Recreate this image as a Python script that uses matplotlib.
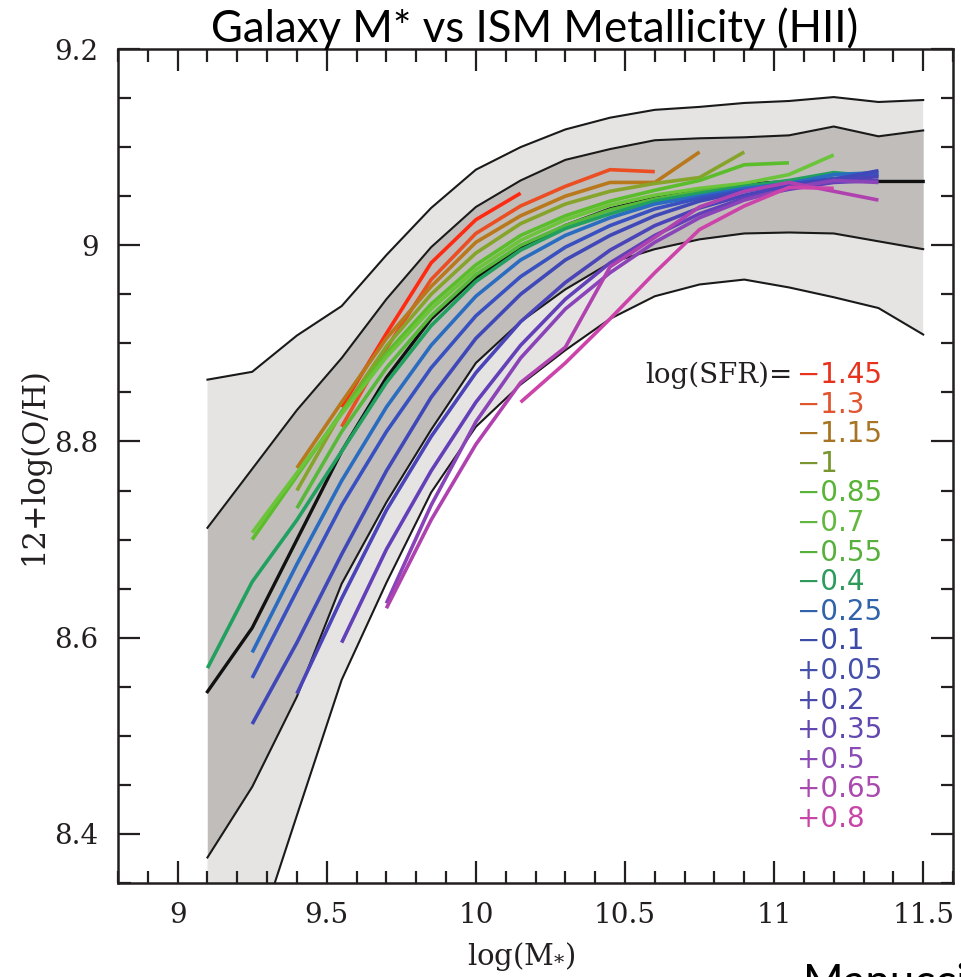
import matplotlib
matplotlib.use("Agg")
import matplotlib.pyplot as plt
from matplotlib.ticker import MultipleLocator, FixedLocator

# stellar-mass bins (log M*)
mass = [9.1, 9.25, 9.4, 9.55, 9.7, 9.85, 10.0, 10.15, 10.3, 10.45,
        10.6, 10.75, 10.9, 11.05, 11.2, 11.35, 11.5]

# envelope of the distribution (outer = light band, inner = dark band)
outer_hi = [8.863, 8.871, 8.908, 8.938, 8.990, 9.038, 9.077, 9.100, 9.118,
            9.130, 9.138, 9.141, 9.145, 9.147, 9.151, 9.146, 9.148]
inner_hi = [8.712, 8.772, 8.832, 8.885, 8.945, 8.998, 9.039, 9.066, 9.087,
            9.098, 9.107, 9.109, 9.110, 9.112, 9.121, 9.111, 9.117]
median = [8.545, 8.610, 8.700, 8.790, 8.865, 8.925, 8.967, 8.997, 9.020,
          9.037, 9.048, 9.056, 9.062, 9.065, 9.066, 9.065, 9.065]
inner_lo = [8.376, 8.448, 8.540, 8.655, 8.738, 8.812, 8.880, 8.922, 8.955,
            8.982, 8.996, 9.006, 9.012, 9.013, 9.012, 9.004, 8.996]
outer_lo = [8.150, 8.280, 8.419, 8.557, 8.656, 8.748, 8.815, 8.858, 8.893,
            8.925, 8.948, 8.960, 8.965, 8.957, 8.947, 8.936, 8.909]

# one curve per log(SFR) bin: first mass bin, then metallicity values
sfr_labels = ["\u22121.45", "\u22121.3", "\u22121.15", "\u22121", "\u22120.85",
              "\u22120.7", "\u22120.55", "\u22120.4", "\u22120.25", "\u22120.1",
              "+0.05", "+0.2", "+0.35", "+0.5", "+0.65", "+0.8"]
sfr_start = [9.55, 9.55, 9.4, 9.4, 9.25, 9.25, 9.4, 9.1, 9.25, 9.25,
             9.25, 9.4, 9.55, 9.7, 9.7, 10.15]
sfr_oh = [
    [8.835, 8.910, 8.982, 9.026, 9.053],
    [8.815, 8.895, 8.965, 9.012, 9.040, 9.060, 9.077, 9.075],
    [8.773, 8.840, 8.905, 8.958, 9.003, 9.030, 9.050, 9.064, 9.064, 9.095],
    [8.750, 8.830, 8.897, 8.950, 8.992, 9.022, 9.042, 9.055, 9.063, 9.069, 9.095],
    [8.700, 8.765, 8.830, 8.890, 8.940, 8.980, 9.010, 9.030, 9.045, 9.056, 9.066,
     9.082, 9.084],
    [8.707, 8.768, 8.828, 8.886, 8.935, 8.975, 9.005, 9.026, 9.041, 9.051, 9.058,
     9.063, 9.072, 9.092],
    [8.732, 8.810, 8.875, 8.928, 8.970, 9.000, 9.020, 9.036, 9.047, 9.055, 9.060,
     9.065, 9.070],
    [8.569, 8.657, 8.720, 8.790, 8.860, 8.918, 8.963, 8.995, 9.017, 9.032, 9.045,
     9.053, 9.060, 9.066, 9.074, 9.070],
    [8.585, 8.675, 8.760, 8.835, 8.898, 8.948, 8.985, 9.010, 9.028, 9.042, 9.050,
     9.058, 9.063, 9.072, 9.074],
    [8.559, 8.648, 8.735, 8.810, 8.875, 8.928, 8.968, 8.998, 9.020, 9.037, 9.048,
     9.056, 9.062, 9.068, 9.072],
    [8.512, 8.595, 8.685, 8.770, 8.845, 8.905, 8.950, 8.985, 9.010, 9.030, 9.045,
     9.055, 9.062, 9.067, 9.076],
    [8.543, 8.640, 8.730, 8.805, 8.870, 8.922, 8.962, 8.995, 9.020, 9.038, 9.051,
     9.060, 9.066, 9.070],
    [8.595, 8.690, 8.770, 8.840, 8.898, 8.945, 8.982, 9.010, 9.032, 9.048, 9.057,
     9.064, 9.066],
    [8.635, 8.735, 8.820, 8.885, 8.935, 8.972, 9.003, 9.028, 9.046, 9.058, 9.066,
     9.064],
    [8.630, 8.720, 8.797, 8.860, 8.896, 8.978, 9.008, 9.039, 9.055, 9.064, 9.055,
     9.046],
    [8.840, 8.880, 8.925, 8.972, 9.016, 9.040, 9.059, 9.058],
]
line_colors = ["#ff2a12", "#ea4e22", "#b8781c", "#86a42a", "#5cbd2c", "#6cc43a",
               "#58b83a", "#22a060", "#2a6cc0", "#3850c0", "#4048b8", "#4a44b8",
               "#6440b8", "#8a44b8", "#b042b0", "#cc44aa"]
text_colors = ["#e8321e", "#e0542e", "#a87424", "#7a9630", "#58b436", "#62b83e",
               "#58b03c", "#2e9a5c", "#3063aa", "#3a4ca8", "#4450aa", "#4a4aac",
               "#6248b0", "#8a4cb4", "#a94aae", "#c845a8"]

plt.rcParams["mathtext.fontset"] = "dejavuserif"
W_PX, H_PX = 961, 977
fig = plt.figure(figsize=(W_PX / 100, H_PX / 100), dpi=100)
ax = fig.add_axes([118 / W_PX, 1 - 883 / H_PX, 835 / W_PX, 834 / H_PX])

ax.fill_between(mass, outer_lo, outer_hi, color="#e5e4e3", lw=0, zorder=1)
ax.fill_between(mass, inner_lo, inner_hi, color="#c0bdbb", lw=0, zorder=2)
for yb in (outer_hi, inner_hi, inner_lo, outer_lo):
    ax.plot(mass, yb, color="#1a1a1a", lw=1.5, zorder=3)
ax.plot(mass, median, color="#111111", lw=2.4, zorder=3)

for x0, ys, c in zip(sfr_start, sfr_oh, line_colors):
    i0 = mass.index(x0)
    ax.plot(mass[i0:i0 + len(ys)], ys, color=c, lw=2.6, zorder=4,
            solid_capstyle="butt")

ax.set_xlim(8.8, 11.6)
ax.set_ylim(8.35, 9.2)
ax.xaxis.set_major_locator(FixedLocator([9, 9.5, 10, 10.5, 11, 11.5]))
ax.xaxis.set_minor_locator(MultipleLocator(0.1))
ax.yaxis.set_major_locator(FixedLocator([8.4, 8.6, 8.8, 9.0, 9.2]))
ax.yaxis.set_minor_locator(MultipleLocator(0.05))
ax.set_xticklabels(["9", "9.5", "10", "10.5", "11", "11.5"])
ax.set_yticklabels(["8.4", "8.6", "8.8", "9", "9.2"])
ax.tick_params(which="both", direction="in", top=True, right=True,
               color="#231f20", width=1.6)
ax.tick_params(which="major", length=16, pad=14, labelsize=20,
               labelfontfamily="DejaVu Serif", labelcolor="#231f20")
ax.tick_params(which="minor", length=9)
for s in ax.spines.values():
    s.set_linewidth(1.8)
    s.set_color("#231f20")

ax.set_ylabel("12+log(O/H)", family="DejaVu Serif", fontsize=22,
              color="#231f20")
ax.yaxis.set_label_coords(-0.082, 0.50)
ax.set_xlabel(r"log(M$_{*}$)", family="DejaVu Serif", fontsize=21,
              color="#231f20")
ax.xaxis.set_label_coords(0.483, -0.068)

# log(SFR) key, placed in pixel coordinates (origin top-left of image)
def px(x, y):
    return x / W_PX, 1 - y / H_PX

fig.text(*px(793, 375), "log(SFR)=", fontsize=20, family="DejaVu Serif",
         color="#231f20", ha="right", va="center")
for k, (lab, c) in enumerate(zip(sfr_labels, text_colors)):
    fig.text(*px(797, 375 + 29.6 * k), lab, fontsize=20,
             family="DejaVu Sans", color=c, ha="left", va="center")

fig.text(*px(535, 42), "Galaxy M* vs ISM Metallicity (HII)",
         family="Lato", fontsize=31.5, ha="center", va="baseline")
# source credit, cut by the lower image edge as in the original slide
fig.text(*px(803, 963), "Manucci et al. 2010", family="Lato",
         fontsize=31.5, ha="left", va="top")

fig.savefig("out.png", dpi=100)
